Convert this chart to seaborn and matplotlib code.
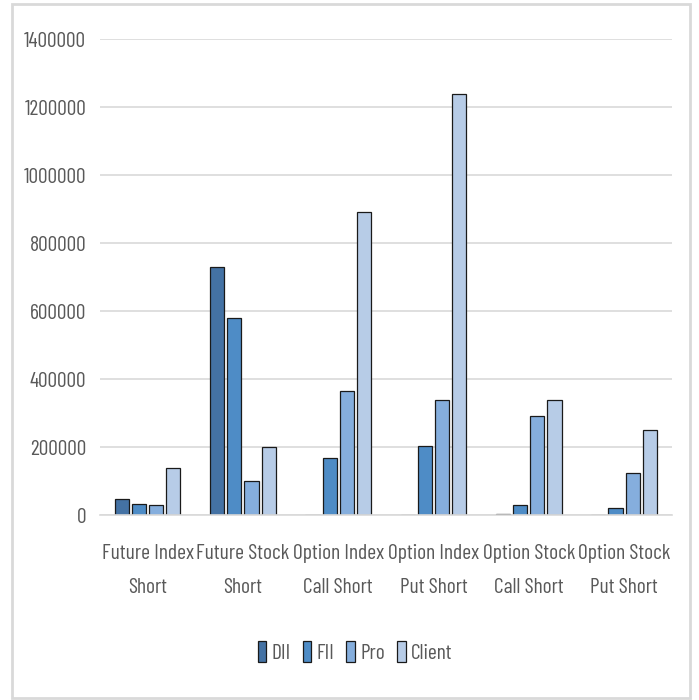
import matplotlib
matplotlib.use("Agg")
import matplotlib.pyplot as plt
import seaborn as sns
import pandas as pd
from matplotlib.patches import Rectangle

categories = ["Future Index\nShort", "Future Stock\nShort", "Option Index\nCall Short",
              "Option Index\nPut Short", "Option Stock\nCall Short", "Option Stock\nPut Short"]
series = ["DII", "FII", "Pro", "Client"]
dii = [47000, 731000, 0, 0, 5000, 0]
fii = [32000, 581000, 167000, 205000, 29000, 20000]
pro = [29000, 100000, 364000, 340000, 291000, 123000]
client = [138000, 200000, 893000, 1240000, 340000, 250000]
yticks = [0, 200000, 400000, 600000, 800000, 1000000, 1200000, 1400000]
colors = ["#4472A4", "#4E8CC6", "#85AEDD", "#B7CCE7"]

rows = []
for name, vals in zip(series, [dii, fii, pro, client]):
    for c, v in zip(categories, vals):
        rows.append({"category": c, "series": name, "value": v})
df = pd.DataFrame(rows)

sns.set_theme(style="white")
plt.rcParams["font.family"] = ["Barlow Condensed", "Archivo Narrow", "DejaVu Sans"]
text_color = "#595959"

fig = plt.figure(figsize=(6.99, 7.0), dpi=100)
ax = fig.add_axes([0.143, 0.264, 0.818, 0.680])

sns.barplot(data=df, x="category", y="value", hue="series", hue_order=series,
            palette=colors, saturation=1, width=0.72, gap=0.18, edgecolor="#1a1a1a",
            linewidth=0.9, ax=ax, legend=True)

ax.set_ylim(0, 1400000)
ax.set_yticks(yticks)
ax.set_yticklabels([str(t) for t in yticks])
ax.set_xlim(-0.5, len(categories) - 0.5)
ax.yaxis.grid(True, color="#D9D9D9", linewidth=1.2)
ax.set_axisbelow(True)
for s in ["top", "right", "left"]:
    ax.spines[s].set_visible(False)
ax.spines["bottom"].set_color("#D9D9D9")
ax.spines["bottom"].set_linewidth(1.2)
ax.tick_params(axis="both", length=0, labelsize=15.5, labelcolor=text_color)
ax.tick_params(axis="y", pad=10)
ax.tick_params(axis="x", pad=21)
for lbl in ax.get_xticklabels():
    lbl.set_linespacing(1.95)
ax.set_xlabel("")
ax.set_ylabel("")

leg = ax.legend(loc="center", ncol=4, frameon=False, fontsize=15.5, handlelength=0.4,
                handleheight=1.1, handletextpad=0.25, columnspacing=0.55, labelcolor=text_color,
                bbox_to_anchor=(355 / 699, 1 - 652 / 700), bbox_transform=fig.transFigure)

fig.patches.append(Rectangle((12 / 699, 2 / 700), 678 / 699, 694 / 700, transform=fig.transFigure,
                             fill=False, edgecolor="#D9D9D9", linewidth=2))

fig.savefig("out.png", dpi=100)
